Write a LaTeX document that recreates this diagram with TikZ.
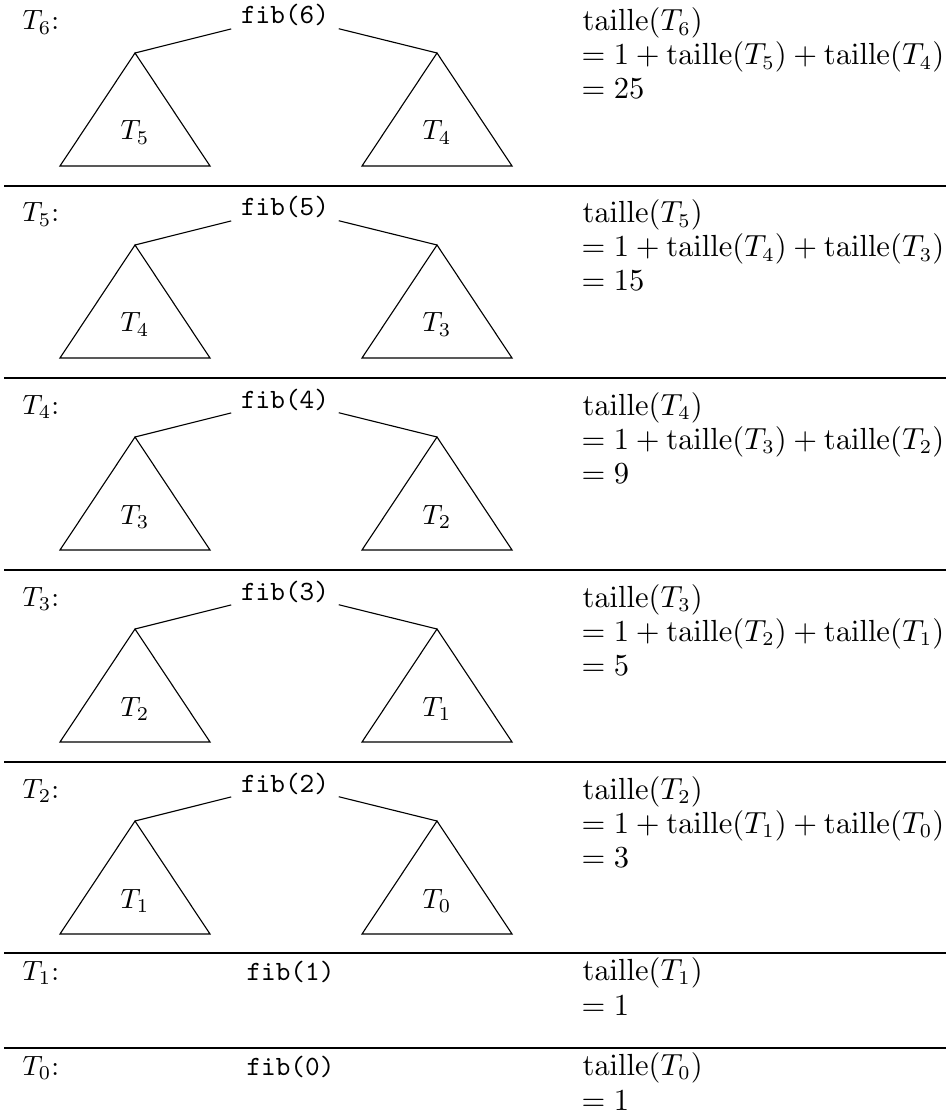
\documentclass[tikz,border=0pt]{standalone}
\begin{document}
\begin{tikzpicture}[x=0.3585pt,y=-0.3585pt,
  lbl/.style={anchor=base west,inner sep=0pt},
  rcol/.style={lbl,font=\fontsize{10.7}{12.8}\selectfont},
  fibnode/.style={font=\ttfamily,anchor=base},
  sublbl/.style={anchor=base,inner sep=0pt},
  sepline/.style={line width=0.4pt},
  edge/.style={line width=0.4pt}]
\useasboundingbox (0,0) rectangle (946,1114);
\foreach \n/\v/\k in {6/25/0,5/15/1,4/9/2,3/5/3,2/3/4}{
  \pgfmathtruncatemacro\ca{\n-1}
  \pgfmathtruncatemacro\cb{\n-2}
  \pgfmathsetmacro\rowtop{-6+192*\k}
  \node[lbl] (lab\n) at (22,\rowtop+36) {$T_{\n}$:};
  \node[fibnode] (fib\n) at (285,\rowtop+30) {fib(\n)};
  \coordinate (L\n) at (135,\rowtop+59);
  \coordinate (R\n) at (437,\rowtop+59);
  \draw[edge] (fib\n) -- (L\n);
  \draw[edge] (fib\n) -- (R\n);
  \draw[edge] (L\n) -- ++(-75,113) -- ++(150,0) -- cycle;
  \draw[edge] (R\n) -- ++(-75,113) -- ++(150,0) -- cycle;
  \node[sublbl] (sl\n) at (135,\rowtop+146) {$T_{\ca}$};
  \node[sublbl] (sr\n) at (437,\rowtop+146) {$T_{\cb}$};
  \node[rcol] (ta\n) at (582,\rowtop+37) {$\mathrm{taille}(T_{\n})$};
  \node[rcol] (tb\n) at (581,\rowtop+71) {$=1+\mathrm{taille}(T_{\ca})+\mathrm{taille}(T_{\cb})$};
  \node[rcol] (tc\n) at (581,\rowtop+105) {$=\v$};
}
\foreach \n/\rowtop in {1/953,0/1048}{
  \node[lbl] (lab\n) at (22,\rowtop+27) {$T_{\n}$:};
  \node[lbl,font=\ttfamily] (fib\n) at (246,\rowtop+27) {fib(\n)};
  \node[rcol] (ta\n) at (582,\rowtop+27) {$\mathrm{taille}(T_{\n})$};
  \node[rcol] (tb\n) at (581,\rowtop+62) {$=1$};
}
\foreach \y in {186,378,570,762,953,1048}{
  \draw[sepline] (4,\y) -- (946,\y);
}
\end{tikzpicture}
\end{document}
